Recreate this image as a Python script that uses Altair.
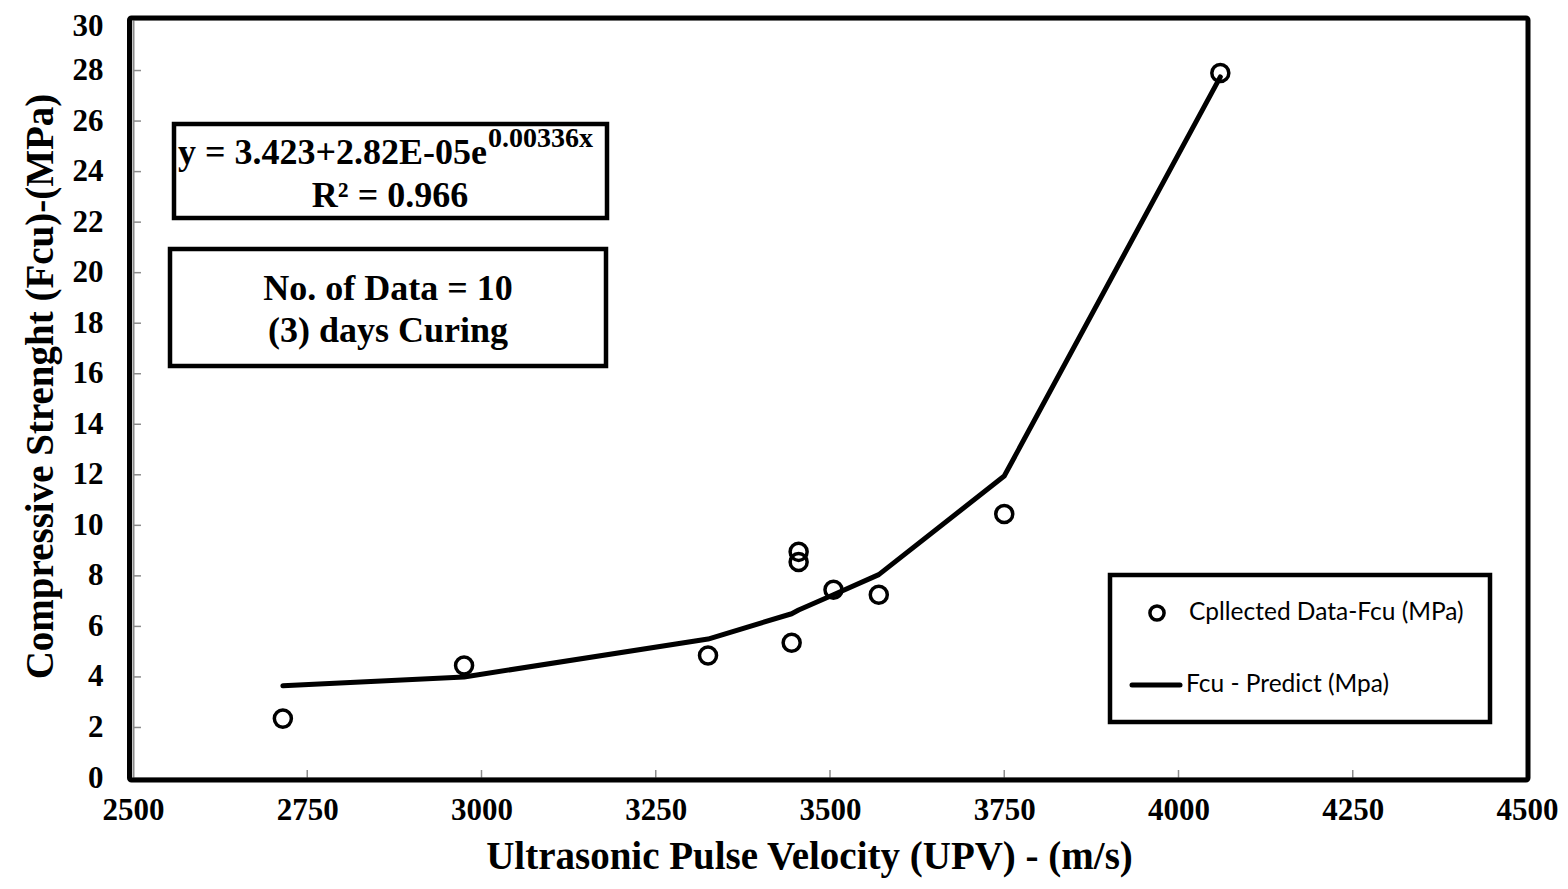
import altair as alt
import pandas as pd

# ---- data ----
upv = [2715, 2975, 3325, 3445, 3455, 3455, 3505, 3570, 3750, 4060]
fcu = [2.35, 4.45, 4.85, 5.35, 8.95, 8.55, 7.45, 7.25, 10.45, 27.9]
pred_x = [2715, 2975, 3325, 3445, 3455, 3505, 3570, 3750, 4060]
pred_y = [3.65, 4.0, 5.5, 6.5, 6.65, 7.25, 8.05, 11.95, 27.75]
x_ticks = [2500, 2750, 3000, 3250, 3500, 3750, 4000, 4250, 4500]
y_ticks = [0, 2, 4, 6, 8, 10, 12, 14, 16, 18, 20, 22, 24, 26, 28, 30]

W, H = 1394, 758
SERIF = "Liberation Serif"
SANS = "Lato"

pts = pd.DataFrame({"x": upv, "y": fcu})
line = pd.DataFrame({"x": pred_x, "y": pred_y})
xt = pd.DataFrame({"t": x_ticks[1:-1]})
yt = pd.DataFrame({"t": y_ticks[1:-1]})

xs = alt.Scale(domain=[2500, 4500], nice=False)
ys = alt.Scale(domain=[0, 30], nice=False)

xaxis = alt.Axis(values=x_ticks, format="d", grid=False, tickSize=0, labelPadding=17,
                 labelFont=SERIF, labelFontSize=31, labelFontWeight="bold", labelColor="black",
                 labelFlush=False,
                 title="Ultrasonic Pulse Velocity (UPV) - (m/s)", titleFont=SERIF,
                 titleFontSize=39, titleFontWeight="bold", titleColor="black", titlePadding=12,
                 titleX=676,
                 domainColor="#8c8c8c", domainWidth=2, labelOverlap=False)
yaxis = alt.Axis(values=y_ticks, grid=False, tickSize=0, labelPadding=30,
                 labelFont=SERIF, labelFontSize=31, labelFontWeight="bold", labelColor="black",
                 labelFlush=False,
                 labelOffset={"condition": {"test": "datum.value == 30", "value": 6}, "value": 0},
                 title="Compressive Strenght (Fcu)-(MPa)", titleFont=SERIF,
                 titleFontSize=39, titleFontWeight="bold", titleColor="black", titlePadding=12,
                 titleY=366,
                 domainColor="#8c8c8c", domainWidth=2, labelOverlap=False)

base_pts = alt.Chart(pts).mark_point(shape="circle", filled=False, size=290,
                                     strokeWidth=3.5, color="black", opacity=1).encode(
    x=alt.X("x:Q", scale=xs, axis=xaxis),
    y=alt.Y("y:Q", scale=ys, axis=yaxis),
)

pred_line = alt.Chart(line).mark_line(color="black", strokeWidth=5, strokeCap="round",
                                      strokeJoin="round").encode(
    x=alt.X("x:Q", scale=xs), y=alt.Y("y:Q", scale=ys))

# inward gray ticks
xtick_marks = alt.Chart(xt).mark_rule(color="#8c8c8c", strokeWidth=1.5).encode(
    x=alt.X("t:Q", scale=xs), y=alt.value(H), y2=alt.value(H - 8))
ytick_marks = alt.Chart(yt).mark_rule(color="#8c8c8c", strokeWidth=1.5).encode(
    y=alt.Y("t:Q", scale=ys), x=alt.value(0), x2=alt.value(8))

# outer black frame
frame = alt.Chart(pd.DataFrame({"a": [0]})).mark_rect(
    filled=False, stroke="black", strokeWidth=5, cornerRadius=2).encode(
    x=alt.value(-3.5), x2=alt.value(W + 1), y=alt.value(-2), y2=alt.value(H + 2))

# annotation boxes
def box(x0, x1, y0, y1):
    return alt.Chart(pd.DataFrame({"a": [0]})).mark_rect(
        fill="white", stroke="black", strokeWidth=4.5).encode(
        x=alt.value(x0), x2=alt.value(x1), y=alt.value(y0), y2=alt.value(y1))

def txt(s, x, y, size, align="center", font=SERIF, weight="bold", baseline="middle"):
    return alt.Chart(pd.DataFrame({"s": [s]})).mark_text(
        font=font, fontSize=size, fontWeight=weight, align=align, baseline=baseline,
        color="black").encode(text="s:N", x=alt.value(x), y=alt.value(y))

oy = -2  # plot top moved down by 2px; keep annotations where they sit on the page
box1 = box(41, 474, 106 + oy, 200 + oy)
eq_main = txt("y = 3.423+2.82E-05e", 354, 146 + oy, 36, align="right", baseline="alphabetic")
eq_sup = txt("0.00336x", 355, 129 + oy, 28, align="left", baseline="alphabetic")
r2 = txt("R² = 0.966", 257, 189 + oy, 36, baseline="alphabetic")

box2 = box(37, 473, 231 + oy, 348 + oy)
nd = txt("No. of Data = 10", 255, 282 + oy, 36, baseline="alphabetic")
cur = txt("(3) days Curing", 255, 324 + oy, 36, baseline="alphabetic")

# legend
leg_box = box(977, 1357, 557 + oy, 704 + oy)
leg_pt = alt.Chart(pd.DataFrame({"a": [0]})).mark_point(
    shape="circle", filled=False, size=200, strokeWidth=3.5, color="black", opacity=1).encode(
    x=alt.value(1024), y=alt.value(595 + oy))
leg_line = alt.Chart(pd.DataFrame({"a": [0]})).mark_rule(
    color="black", strokeWidth=5, strokeCap="round").encode(
    x=alt.value(999), x2=alt.value(1047), y=alt.value(667 + oy))
leg_t1 = txt("Cpllected Data-Fcu (MPa)", 1056, 595 + oy, 24.5, align="left", font=SANS, weight="normal")
leg_t2 = txt("Fcu - Predict (Mpa)", 1053, 667 + oy, 24.5, align="left", font=SANS, weight="normal")

chart = alt.layer(
    base_pts, xtick_marks, ytick_marks, pred_line,
    box1, eq_main, eq_sup, r2, box2, nd, cur,
    leg_box, leg_pt, leg_line, leg_t1, leg_t2, frame,
).properties(
    width=W, height=H,
    autosize=alt.AutoSizeParams(type="none"),
    padding={"left": 125, "top": 12, "right": 33, "bottom": 103},
).configure_view(stroke=None).configure(background="white")

chart.save("out.html", embed_options={"renderer": "svg", "actions": False})
